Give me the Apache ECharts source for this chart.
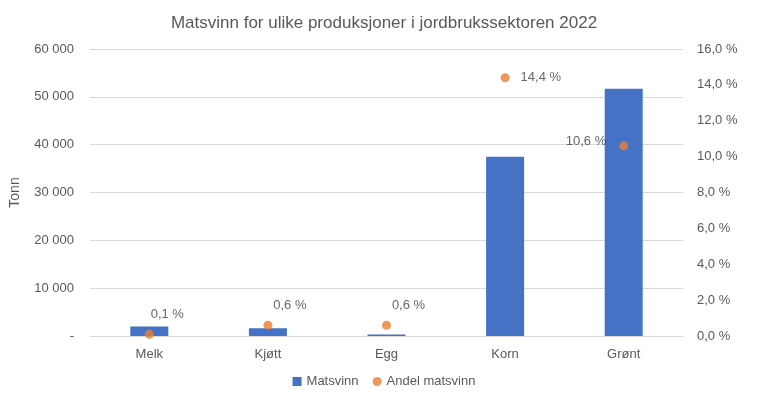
<!DOCTYPE html>
<html><head><meta charset="utf-8">
<script src="https://cdn.jsdelivr.net/npm/echarts@6/dist/echarts.min.js"></script>
<style>html,body{margin:0;padding:0;background:#fff}#c{width:768px;height:407px}</style>
</head><body><div id="c"></div>
<script>
const categories = ['Melk','Kjøtt','Egg','Korn','Grønt'];
const matsvinn = [2000, 1600, 300, 37500, 51700];
const andel = [0.1, 0.6, 0.6, 14.4, 10.6];
const labelPos = ['top','top','top','right','left'];
const labelOff = [[18,-4],[22,-4],[22,-4],[6,0],[-8,-4]];
const fmtNum = v => v === 0 ? '-' : String(v).replace(/\B(?=(\d{3})+(?!\d))/g, ' ');
const fmtPct = v => v.toFixed(1).replace('.', ',') + ' %';
const chart = echarts.init(document.getElementById('c'));
const txt = '#595959';
chart.setOption({
  animation:false,
  textStyle:{fontFamily:'Liberation Sans, Arial, sans-serif'},
  title:{text:'Matsvinn for ulike produksjoner i jordbrukssektoren 2022',left:'center',top:10,
    textStyle:{fontSize:17,fontWeight:'normal',color:txt}},
  legend:{bottom:14,itemWidth:9,itemHeight:9,itemGap:14,textStyle:{color:txt,fontSize:13},
    data:[{name:'Matsvinn',icon:'rect'},{name:'Andel matsvinn',icon:'circle'}]},
  grid:{left:88,right:85,top:49,bottom:71},
  xAxis:{type:'category',data:categories,axisTick:{show:false},
    axisLine:{lineStyle:{color:'#d9d9d9'}},axisLabel:{color:txt,fontSize:13,margin:12}},
  yAxis:[
    {type:'value',min:0,max:60000,interval:10000,name:'Tonn',nameLocation:'middle',nameGap:68,
     nameTextStyle:{color:txt,fontSize:14},
     axisLabel:{color:txt,fontSize:13,formatter:fmtNum,margin:16},
     splitLine:{lineStyle:{color:'#d9d9d9'}}},
    {type:'value',min:0,max:16,interval:2,position:'right',
     axisLabel:{color:txt,fontSize:13,formatter:fmtPct,margin:14},splitLine:{show:false}}
  ],
  series:[
    {name:'Matsvinn',type:'bar',data:matsvinn,barWidth:38,itemStyle:{color:'#4472c4'}},
    {name:'Andel matsvinn',type:'scatter',yAxisIndex:1,symbolSize:9,itemStyle:{color:'#ed7d31'},
     data:andel.map((v,i)=>({value:v,label:{show:true,position:labelPos[i],offset:labelOff[i],
       formatter:fmtPct(v),color:'#404040',fontSize:13}}))}
  ]
});
</script></body></html>
